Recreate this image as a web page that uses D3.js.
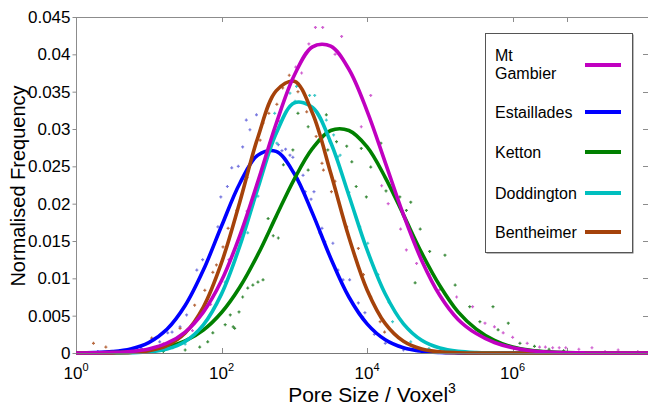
<!DOCTYPE html>
<html><head><meta charset="utf-8">
<script src="https://cdn.jsdelivr.net/npm/d3@7"></script>
<style>body{margin:0;background:#fff}svg{display:block;font-family:"Liberation Sans",Arial,sans-serif}</style>
</head><body><svg id="c" width="648" height="408"></svg>
<script>
// ---- data ----
const seriesNames = ["Mt Gambier", "Estaillades", "Ketton", "Doddington", "Bentheimer"];
const lineColors = ["#c000c0", "#0000ff", "#008000", "#00bfbf", "#a5420a"];
const markColors = ["#d060d0", "#7878e0", "#3c8c3c", "#40c8c8", "#b86a40"];

// exponents (log10 of pore size) of the fitted curves
const fitExp = [0,0.25,0.5,0.75,1,1.25,1.5,1.75,2,2.25,2.5,2.75,3,3.25,3.5,3.75,4,4.25,4.5,4.75,5,5.25,5.5,5.75,6,6.25,6.5,6.75,7,7.25,7.5,7.75,7.86];
const fitMtGambier  = [0.00001,0.00002,0.00008,0.00021,0.00055,0.00131,0.00281,0.00548,0.0097,0.0157,0.0230,0.0307,0.0372,0.0410,0.0411,0.0380,0.0324,0.0255,0.0185,0.0124,0.0077,0.0045,0.0026,0.0014,0.0007,0.0003,0.00012,0.00004,0.00001,0,0,0,0];
const fitEstaillades= [0.00001,0.00005,0.00018,0.00053,0.00138,0.00317,0.00635,0.0111,0.0170,0.0227,0.0265,0.0270,0.0240,0.0187,0.0127,0.0075,0.0039,0.00177,0.0007,0.00024,0.00007,0.00002,0,0,0,0,0,0,0,0,0,0,0];
const fitKetton     = [0.00001,0.00002,0.00005,0.00014,0.00035,0.00078,0.00161,0.00307,0.00542,0.0088,0.0132,0.0183,0.0233,0.0274,0.0298,0.0298,0.0276,0.0235,0.0185,0.0134,0.0090,0.0055,0.0032,0.0017,0.0008,0.00036,0.00015,0.00005,0.00002,0,0,0,0];
const fitDoddington = [0,0,0.00001,0.00004,0.00016,0.00054,0.00154,0.00377,0.00792,0.0143,0.0221,0.0294,0.0335,0.0329,0.0282,0.0211,0.0138,0.0079,0.0039,0.0017,0.00066,0.00022,0.00006,0.00002,0,0,0,0,0,0,0,0,0];
const fitBentheimer = [0,0,0.00002,0.00008,0.00031,0.00099,0.00267,0.00616,0.0121,0.0202,0.0289,0.0351,0.0364,0.0321,0.0241,0.0155,0.00845,0.00393,0.00156,0.00053,0.00015,0.00004,0,0,0,0,0,0,0,0,0,0,0];

// measured points: [log10 pore size, normalised frequency]
const ptsMtGambier = [[0.3,0.0001],[0.7,0.0002],[1.0,0.0005],[1.3,0.0012],[1.6,0.003],[1.85,0.0065],[2.1,0.0125],[2.35,0.019],[2.6,0.0255],[2.8,0.031],[3.02,0.0383],[3.1,0.0375],[3.2,0.0414],[3.29,0.0436],[3.39,0.0436],[3.56,0.04],[3.65,0.0424],[3.92,0.0303],[4.05,0.0345],[4.2,0.0224],[4.29,0.02],[4.46,0.0166],[4.54,0.0138],[4.68,0.012],[4.85,0.0105],[5.0,0.0085],[5.23,0.0075],[5.45,0.0062],[5.62,0.004],[5.75,0.0035],[5.87,0.0027],[6.0,0.0021],[6.2,0.0013],[6.37,0.0008],[6.45,0.0008],[6.55,0.0007],[6.64,0.0007],[6.73,0.0007],[6.91,0.0005],[7.09,0.0007],[7.27,0.0002],[7.45,0.0004],[7.72,0.0002]];
const ptsEstaillades = [[0.3,0.0002],[0.6,0.0003],[0.9,0.0006],[1.15,0.0015],[1.26,0.0027],[1.32,0.0028],[1.43,0.0035],[1.52,0.0051],[1.66,0.0111],[1.74,0.0125],[1.95,0.0169],[1.99,0.0209],[2.08,0.0223],[2.14,0.0248],[2.23,0.025],[2.29,0.0276],[2.34,0.0312],[2.39,0.0299],[2.48,0.0319],[2.78,0.0279],[2.83,0.0271],[2.88,0.0273],[2.94,0.0265],[2.98,0.0262],[3.12,0.0238],[3.15,0.0216],[3.23,0.0206],[3.27,0.0216],[3.35,0.0161],[3.38,0.0167],[3.42,0.0149],[3.53,0.0147],[3.6,0.0111],[3.67,0.0098],[3.76,0.0098],[3.88,0.0067],[3.94,0.0048],[3.97,0.0054],[4.1,0.0025],[4.25,0.0013],[4.5,0.0004],[4.8,0.0002]];
const ptsKetton = [[0.8,0.0001],[1.2,0.0002],[1.5,0.0004],[1.7,0.0008],[1.81,0.0015],[1.88,0.0027],[2.05,0.0038],[2.12,0.0051],[2.16,0.0035],[2.18,0.0033],[2.24,0.0055],[2.29,0.0075],[2.36,0.0087],[2.43,0.0091],[2.5,0.0095],[2.57,0.0098],[2.64,0.018],[2.71,0.0157],[2.78,0.0154],[2.85,0.0252],[2.98,0.0272],[3.05,0.0321],[3.19,0.0303],[3.19,0.0245],[3.44,0.0319],[3.46,0.0272],[3.58,0.0283],[3.72,0.0277],[3.79,0.0256],[3.85,0.0223],[3.92,0.0274],[3.99,0.0209],[4.05,0.0249],[4.19,0.0281],[4.26,0.0217],[4.45,0.0209],[4.54,0.0191],[4.6,0.0202],[4.66,0.0094],[4.73,0.0166],[4.86,0.0136],[5.07,0.0131],[5.21,0.0091],[5.41,0.0062],[5.55,0.0042],[5.73,0.0062],[5.8,0.0031],[5.94,0.004],[6.1,0.0013],[6.3,0.0009],[6.5,0.0005],[6.7,0.0003]];
const ptsDoddington = [[0.5,0.0002],[0.8,0.0004],[1.05,0.0003],[1.33,0.0007],[1.5,0.0012],[1.74,0.0035],[1.9,0.006],[2.05,0.0095],[2.2,0.013],[2.36,0.0161],[2.5,0.021],[2.73,0.0321],[2.76,0.0281],[2.94,0.0348],[3.01,0.0337],[3.03,0.0357],[3.21,0.0345],[3.28,0.0345],[3.44,0.0312],[3.49,0.0283],[3.54,0.0292],[3.6,0.0263],[3.63,0.0265],[3.75,0.0215],[3.9,0.0169],[4.01,0.0147],[4.15,0.0105],[4.3,0.0068],[4.35,0.0042],[4.42,0.0021],[4.6,0.0015],[4.85,0.0006],[5.1,0.0002]];
const ptsBentheimer = [[0.24,0.0013],[0.41,0.0008],[0.7,0.0003],[1.04,0.002],[1.2,0.0012],[1.43,0.0033],[1.5,0.0027],[1.63,0.0064],[1.77,0.0084],[1.88,0.0108],[1.93,0.0118],[2.02,0.0142],[2.09,0.0167],[2.21,0.0191],[2.35,0.0235],[2.53,0.0285],[2.57,0.0308],[2.65,0.0321],[2.76,0.0333],[2.84,0.0355],[2.93,0.0372],[3.05,0.035],[3.17,0.0323],[3.3,0.029],[3.38,0.0254],[3.4,0.0245],[3.51,0.0216],[3.56,0.023],[3.72,0.0169],[3.88,0.014],[3.95,0.0105],[4.05,0.0075],[4.18,0.0042],[4.24,0.0028],[4.29,0.0015],[4.45,0.0009],[4.7,0.0003]];

const xTickExps = [0, 2, 4, 6];
const xExtraTickExps = [6.75];
const yTicks = [0,0.005,0.01,0.015,0.02,0.025,0.03,0.035,0.04,0.045];
const yTickLabels = ["0","0.005","0.01","0.015","0.02","0.025","0.03","0.035","0.04","0.045"];
const xTitle = "Pore Size / Voxel", xTitleSup = "3";
const yTitle = "Normalised Frequency";

// ---- chart ----
const fits = [fitMtGambier, fitEstaillades, fitKetton, fitDoddington, fitBentheimer];
const pts = [ptsMtGambier, ptsEstaillades, ptsKetton, ptsDoddington, ptsBentheimer];
const L = 76, T = 17, R = 649, B = 353;
const svg = d3.select("#c");
const x = d3.scaleLog().domain([1, Math.pow(10, 7.86)]).range([L, 648]);
const y = d3.scaleLinear().domain([0, 0.045]).range([B, T]);
const axisCol = "#8c8c8c";

svg.append("defs").append("clipPath").attr("id","clip").append("rect")
  .attr("x", L).attr("y", T - 4).attr("width", R - L).attr("height", B - T + 6);

// axes frame
svg.append("line").attr("x1",L).attr("x2",R).attr("y1",T+0.5).attr("y2",T+0.5).attr("stroke",axisCol);
svg.append("line").attr("x1",L+0.5).attr("x2",L+0.5).attr("y1",T).attr("y2",B).attr("stroke",axisCol);

// y axis
const ya = svg.append("g").attr("transform",`translate(${L+0.5},0)`)
  .call(d3.axisLeft(y).tickValues(yTicks).tickFormat((d,i)=>yTickLabels[i]).tickSize(4).tickSizeOuter(0).tickPadding(2));
ya.select(".domain").remove();
ya.selectAll("line").attr("stroke",axisCol);
ya.selectAll("text").attr("font-size",17).attr("fill","#000").attr("font-family","Liberation Sans, Arial, sans-serif");
// right-side ticks
svg.append("g").selectAll("line").data(yTicks.slice(1,-1)).join("line")
  .attr("x1",643).attr("x2",648).attr("y1",d=>Math.round(y(d))+0.5).attr("y2",d=>Math.round(y(d))+0.5).attr("stroke",axisCol);

// x axis ticks (inward)
const xTickVals = xTickExps.concat(xExtraTickExps).map(e=>Math.pow(10,e));
svg.append("g").selectAll("line").data(xTickVals).join("line")
  .attr("x1",d=>Math.round(x(d))+0.5).attr("x2",d=>Math.round(x(d))+0.5).attr("y1",B-5).attr("y2",B).attr("stroke",axisCol);
svg.append("g").selectAll("line").data(xTickVals).join("line")
  .attr("x1",d=>Math.round(x(d))+0.5).attr("x2",d=>Math.round(x(d))+0.5).attr("y1",T).attr("y2",T+5).attr("stroke",axisCol);
const xl = svg.append("g").selectAll("text").data(xTickExps).join("text")
  .attr("x",e=>x(Math.pow(10,e))).attr("y",379).attr("text-anchor","middle").attr("font-size",17).attr("fill","#000");
xl.append("tspan").text("10");
xl.append("tspan").attr("dy",-8).attr("font-size",11).text(e=>e);

// scatter
const g = svg.append("g").attr("clip-path","url(#clip)");
pts.forEach((arr,i)=>{
  g.append("g").selectAll("path").data(arr).join("path")
    .attr("transform",d=>`translate(${x(Math.pow(10,d[0]))},${y(d[1])})`)
    .attr("d","M-1.5,0H1.5M0,-1.5V1.5").attr("stroke",markColors[i]).attr("stroke-width",1.2).attr("fill","none");
});

// fitted lines
const line = d3.line().x(d=>x(Math.pow(10,d[0]))).y(d=>y(Math.max(0,d[1]))).curve(d3.curveCatmullRom.alpha(0.5));
const order = [1,2,3,4,0];
order.forEach(i=>{
  const data = fitExp.map((e,k)=>[e, fits[i][k]]);
  g.append("path").datum(data).attr("d",line).attr("fill","none").attr("stroke",lineColors[i]).attr("stroke-width",3.6).attr("stroke-linejoin","round");
});

// bottom axis line on top
svg.append("line").attr("x1",L).attr("x2",R).attr("y1",B+0.5).attr("y2",B+0.5).attr("stroke","#777");

// titles
const xt = svg.append("text").attr("x",372).attr("y",402).attr("text-anchor","middle").attr("font-size",21).attr("fill","#000");
xt.append("tspan").text(xTitle);
xt.append("tspan").attr("dy",-9).attr("font-size",14).text(xTitleSup);
svg.append("text").attr("transform","translate(25,186) rotate(-90)").attr("text-anchor","middle").attr("font-size",20).attr("fill","#000").text(yTitle);

// legend
const lg = svg.append("g");
lg.append("rect").attr("x",486.5).attr("y",34.5).attr("width",147).attr("height",219).attr("fill","#000").attr("opacity",0.55);
lg.append("rect").attr("x",485.5).attr("y",33.5).attr("width",147).attr("height",219).attr("fill","#fff").attr("stroke","#555");
const legY = [65, 112, 152, 193, 232];
const legLabels = [["Mt","Gambier"],["Estaillades"],["Ketton"],["Doddington"],["Bentheimer"]];
seriesNames.forEach((n,i)=>{
  const t = lg.append("text").attr("x",495).attr("font-size",16).attr("fill","#000");
  if (legLabels[i].length === 2) {
    t.append("tspan").attr("x",495).attr("y",61).text(legLabels[i][0]);
    t.append("tspan").attr("x",495).attr("y",79).text(legLabels[i][1]);
  } else {
    t.attr("y", legY[i] + 6).text(legLabels[i][0]);
  }
  lg.append("line").attr("x1",585).attr("x2",621).attr("y1",legY[i]).attr("y2",legY[i]).attr("stroke",lineColors[i]).attr("stroke-width",4);
});
</script></body></html>
